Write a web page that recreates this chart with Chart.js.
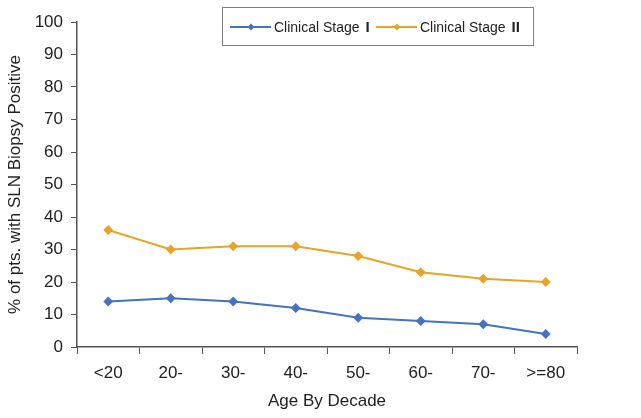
<!DOCTYPE html>
<html>
<head>
<meta charset="utf-8">
<script src="https://cdn.jsdelivr.net/npm/chart.js@4"></script>
<style>
  html, body { margin: 0; padding: 0; background: #fff; }
  #wrap { width: 641px; height: 418px; }
</style>
</head>
<body>
<div id="wrap"><canvas id="chart" width="641" height="418"></canvas></div>
<script>
const ageGroups = ["<20", "20-", "30-", "40-", "50-", "60-", "70-", ">=80"];
const stageOne = [14, 15, 14, 12, 9, 8, 7, 4];
const stageTwo = [36, 30, 31, 31, 28, 23, 21, 20];
const yTicks = [0, 10, 20, 30, 40, 50, 60, 70, 80, 90, 100];

const blue = "#4472C4";
const orange = "#E8A328";
const axisColor = "#555555";
const font = "'Liberation Sans', Arial, sans-serif";

// legend in a box, floating over the top of the plot
const boxLegend = {
  id: "boxLegend",
  afterDraw(chart) {
    const ctx = chart.ctx;
    ctx.save();
    ctx.fillStyle = "#fff";
    ctx.fillRect(222, 7, 311, 38);
    ctx.strokeStyle = "#808080";
    ctx.lineWidth = 1;
    ctx.strokeRect(222.5, 7.5, 311, 38);
    const items = [
      { x: 230, color: blue, label: "Clinical Stage", num: "I" },
      { x: 376, color: orange, label: "Clinical Stage", num: "II" }
    ];
    const y = 27;
    items.forEach(it => {
      ctx.strokeStyle = it.color;
      ctx.lineWidth = 2;
      ctx.beginPath();
      ctx.moveTo(it.x, y);
      ctx.lineTo(it.x + 41, y);
      ctx.stroke();
      ctx.fillStyle = it.color;
      ctx.beginPath();
      const cx = it.x + 21;
      ctx.moveTo(cx, y - 3.5);
      ctx.lineTo(cx + 3.5, y);
      ctx.lineTo(cx, y + 3.5);
      ctx.lineTo(cx - 3.5, y);
      ctx.closePath();
      ctx.fill();
      ctx.fillStyle = "#222";
      ctx.font = "14px " + font;
      ctx.textBaseline = "middle";
      ctx.textAlign = "left";
      ctx.fillText(it.label, it.x + 44, y + 1);
      const w = ctx.measureText(it.label).width;
      ctx.font = "bold 15px " + font;
      ctx.fillText(it.num, it.x + 44 + w + 6, y + 1);
    });
    ctx.restore();
  }
};

new Chart(document.getElementById("chart"), {
  type: "line",
  data: {
    labels: ageGroups,
    datasets: [
      {
        label: "Clinical Stage I",
        data: stageOne,
        borderColor: blue,
        backgroundColor: blue,
        borderWidth: 2,
        pointStyle: "rectRot",
        pointRadius: 3.5,
        tension: 0
      },
      {
        label: "Clinical Stage II",
        data: stageTwo,
        borderColor: orange,
        backgroundColor: orange,
        borderWidth: 2,
        pointStyle: "rectRot",
        pointRadius: 3.5,
        tension: 0
      }
    ]
  },
  options: {
    responsive: false,
    animation: false,
    layout: { padding: { top: 22, right: 64, bottom: 0, left: 0 } },
    plugins: {
      legend: { display: false },
      tooltip: { enabled: false }
    },
    scales: {
      x: {
        offset: true,
        grid: {
          display: true,
          offset: true,
          drawOnChartArea: false,
          drawTicks: true,
          tickLength: 7,
          color: axisColor
        },
        border: { color: axisColor, width: 1.5 },
        ticks: { color: "#222", font: { family: font, size: 17 }, padding: 9, maxRotation: 0 },
        title: {
          display: true,
          text: "Age By Decade",
          color: "#222",
          font: { family: font, size: 17 },
          padding: { top: 4, bottom: 6 }
        },
        afterFit(scale) { scale.height = 71; }
      },
      y: {
        min: 0,
        max: 100,
        afterBuildTicks(scale) { scale.ticks = yTicks.map(v => ({ value: v })); },
        grid: {
          display: true,
          drawOnChartArea: false,
          drawTicks: true,
          tickLength: 6,
          color: axisColor
        },
        border: { color: axisColor, width: 1.5 },
        ticks: { color: "#222", font: { family: font, size: 17 }, padding: 8 },
        title: {
          display: true,
          text: "% of pts. with SLN Biopsy Positive",
          color: "#222",
          font: { family: font, size: 17 },
          padding: { top: 5, bottom: 4 }
        },
        afterFit(scale) { scale.width = 77; }
      }
    }
  },
  plugins: [boxLegend]
});
</script>
</body>
</html>
